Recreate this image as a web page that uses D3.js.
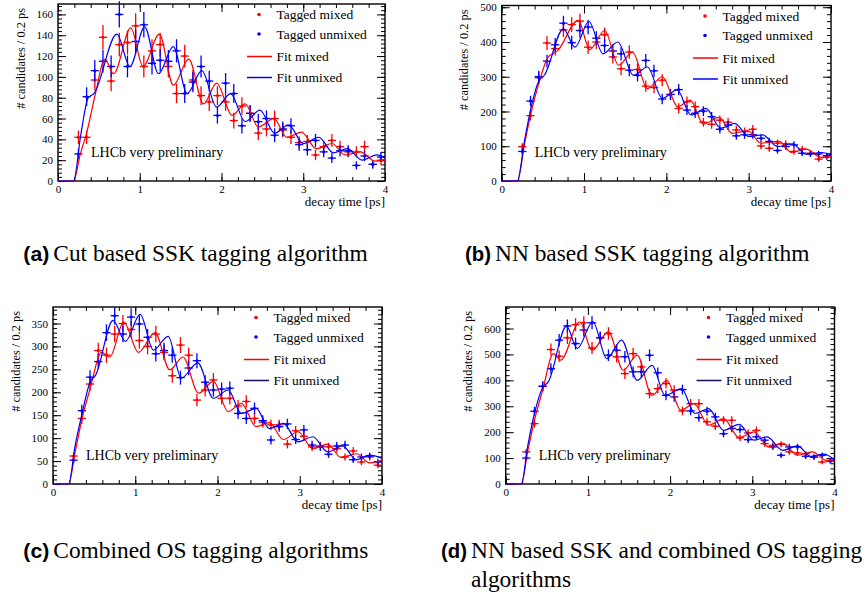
<!DOCTYPE html>
<html>
<head>
<meta charset="utf-8">
<script src="https://cdn.jsdelivr.net/npm/d3@7"></script>
<style>
  html, body { margin: 0; padding: 0; background: #fff; }
  svg { display: block; }
</style>
</head>
<body>
<svg id="fig" width="868" height="596"></svg>
<script>
// ---- data ---------------------------------------------------------------
// decay-time bin centres [ps]
const binCentres = [0.25,0.35,0.45,0.55,0.65,0.75,0.85,0.95,1.05,1.15,1.25,1.35,1.45,1.55,1.65,1.75,1.85,1.95,
                    2.05,2.15,2.25,2.35,2.45,2.55,2.65,2.75,2.85,2.95,3.05,3.15,3.25,3.35,3.45,3.55,3.65,3.75,3.85,3.95];
const binHalfWidth = 0.05;
const xTickLabels = [0, 1, 2, 3, 4];

// (a) cut based SSK
const cutMixed   = [42,42,97,138,96,131,133,149,110,125,131,110,84,120,97,82,76,82,76,58,72,65,46,50,60,49,42,37,38,25,33,39,33,28,28,33,16,20];
const cutUnmixed = [26,81,106,115,110,160,110,134,150,113,116,115,125,84,95,110,96,63,94,84,53,65,57,60,44,50,53,35,30,39,28,22,29,29,15,24,16,23];
const cutFitMixed = [[0,0],[0.19,0],[0.27,25],[0.35,46],[0.45,81],[0.575,117],[0.68,103],[0.89,147],[1.04,110],[1.24,141],[1.41,92],[1.6,117],[1.78,74],[1.94,94],[2.13,63],[2.29,74],[2.45,52],[2.64,60],[2.8,42],[2.98,47],[3.16,31],[3.35,36],[3.51,25],[3.7,28],[3.88,19],[4.0,21]];
const cutFitUnmixed = [[0,0],[0.19,0],[0.28,45],[0.37,80],[0.44,84],[0.72,141],[0.88,110],[1.06,148],[1.23,103],[1.41,129],[1.58,84],[1.76,106],[1.94,71],[2.11,84],[2.29,57],[2.47,68],[2.65,46],[2.82,54],[3.0,36],[3.19,42],[3.37,27],[3.54,31],[3.72,20],[3.9,25],[4.0,22]];
const cutYTicks = [0,20,40,60,80,100,120,140,160];

// (b) NN based SSK
const nnMixed   = [99,188,297,397,381,435,450,460,385,400,421,357,323,371,321,273,269,290,249,209,228,214,169,163,175,169,147,142,149,101,94,109,107,85,92,80,63,69];
const nnUnmixed = [85,230,300,345,392,454,398,433,443,411,390,374,366,319,304,347,317,236,249,263,204,195,201,185,149,161,130,133,133,123,114,88,99,104,80,78,78,73];
const nnFitMixed = [[0,0],[0.19,0],[0.28,110],[0.36,200],[0.45,280],[0.56,355],[0.68,375],[0.93,462],[1.07,378],[1.25,433],[1.42,333],[1.59,371],[1.77,266],[1.95,300],[2.14,214],[2.29,233],[2.45,164],[2.64,183],[2.8,137],[2.99,145],[3.15,109],[3.37,114],[3.52,82],[3.7,92],[3.88,68],[4.0,70]];
const nnFitUnmixed = [[0,0],[0.19,0],[0.28,120],[0.36,215],[0.45,288],[0.52,305],[0.75,438],[0.89,385],[1.06,459],[1.23,366],[1.41,400],[1.6,304],[1.77,328],[1.95,238],[2.13,262],[2.3,190],[2.48,209],[2.66,152],[2.83,166],[3.0,128],[3.17,133],[3.35,99],[3.53,107],[3.7,77],[3.88,82],[4.0,75]];
const nnYTicks = [0,100,200,300,400,500];

// (c) combined OS
const osMixed   = [61,143,218,291,281,327,350,337,313,300,327,287,236,303,281,183,205,227,187,187,170,180,143,135,129,129,87,116,104,81,83,81,77,59,72,48,59,41];
const osUnmixed = [52,160,233,267,330,367,327,364,349,320,284,291,281,232,253,269,222,205,207,209,154,143,165,138,96,125,131,97,118,85,81,65,83,85,53,59,61,48];
const osFitMixed = [[0,0],[0.19,0],[0.27,70],[0.35,140],[0.45,207],[0.59,287],[0.69,277],[0.86,353],[1.04,287],[1.24,330],[1.42,249],[1.58,277],[1.77,198],[1.95,224],[2.13,158],[2.29,176],[2.47,125],[2.63,134],[2.8,97],[2.98,114],[3.16,77],[3.34,87],[3.5,58],[3.69,66],[3.85,46],[4.0,52]];
const osFitUnmixed = [[0,0],[0.19,0],[0.27,85],[0.35,151],[0.45,222],[0.52,238],[0.73,357],[0.88,311],[1.06,370],[1.22,292],[1.4,322],[1.56,231],[1.76,264],[1.95,187],[2.13,205],[2.29,154],[2.47,165],[2.63,121],[2.8,132],[2.98,92],[3.16,103],[3.34,70],[3.52,83],[3.69,53],[3.85,63],[4.0,56]];
const osYTicks = [0,50,100,150,200,250,300,350];

// (d) NN based SSK + combined OS
const comboMixed   = [124,233,377,519,493,564,615,622,525,564,581,491,426,503,452,349,368,388,362,282,310,310,240,223,246,246,178,197,207,156,149,153,124,120,117,104,85,89];
const comboUnmixed = [100,281,377,445,555,610,542,594,622,564,497,516,491,433,433,497,429,342,336,364,282,256,281,259,194,214,210,171,182,169,143,111,143,143,107,104,111,89];
const comboFitMixed = [[0,0],[0.19,0],[0.27,130],[0.35,246],[0.45,362],[0.58,503],[0.67,478],[0.9,626],[1.05,516],[1.25,587],[1.43,439],[1.6,497],[1.78,342],[1.96,400],[2.13,285],[2.29,310],[2.47,227],[2.65,252],[2.84,179],[3.02,201],[3.2,143],[3.37,158],[3.55,111],[3.73,124],[3.9,91],[4.0,94]];
const comboFitUnmixed = [[0,0],[0.19,0],[0.27,150],[0.35,272],[0.45,372],[0.52,395],[0.74,609],[0.87,523],[1.06,626],[1.23,484],[1.41,555],[1.6,400],[1.78,458],[1.94,342],[2.14,368],[2.3,272],[2.47,291],[2.65,207],[2.84,230],[3.02,169],[3.18,182],[3.37,130],[3.55,147],[3.71,107],[3.87,115],[4.0,94]];
const comboYTicks = [0,100,200,300,400,500,600];

const legendLabels = ["Tagged mixed", "Tagged unmixed", "Fit mixed", "Fit unmixed"];
const xTitle = "decay time [ps]";
const yTitle = "# candidates / 0.2 ps";
const stamp = "LHCb very preliminary";

// ---- layout -------------------------------------------------------------
const RED = "#ff0000", BLUE = "#0000ff";
const serif = '"Liberation Serif", "Times New Roman", Times, serif';

const panels = [
  { left: 58,    right: 385,   top: 4,   bottom: 181, yMax: 170, yMinor: 4,
    yTicks: cutYTicks, mixed: cutMixed, unmixed: cutUnmixed,
    fitMixed: cutFitMixed, fitUnmixed: cutFitUnmixed, legendUnmixed: BLUE },
  { left: 501.7, right: 831,   top: 5.5, bottom: 181, yMax: 505, yMinor: 20,
    yTicks: nnYTicks, mixed: nnMixed, unmixed: nnUnmixed,
    fitMixed: nnFitMixed, fitUnmixed: nnFitUnmixed, legendUnmixed: BLUE },
  { left: 53,    right: 382,   top: 307, bottom: 484, yMax: 386, yMinor: 10,
    yTicks: osYTicks, mixed: osMixed, unmixed: osUnmixed,
    fitMixed: osFitMixed, fitUnmixed: osFitUnmixed, legendUnmixed: "#10105a" },
  { left: 505.7, right: 834.5, top: 307, bottom: 484, yMax: 683, yMinor: 20,
    yTicks: comboYTicks, mixed: comboMixed, unmixed: comboUnmixed,
    fitMixed: comboFitMixed, fitUnmixed: comboFitUnmixed, legendUnmixed: "#10105a" }
];

const svg = d3.select("#fig");

function styleAxis(g) {
  g.select(".domain").remove();
  g.attr("font-family", serif).attr("font-size", 11);
  g.selectAll(".tick line").attr("stroke", "#000").attr("stroke-width", 1);
  g.selectAll(".tick text").attr("fill", "#000");
}

panels.forEach(p => {
  const x = d3.scaleLinear().domain([0, 4]).range([p.left, p.right]);
  const y = d3.scaleLinear().domain([0, p.yMax]).range([p.bottom, p.top]);
  const g = svg.append("g");

  const xMinor = d3.range(0, 4.0001, 0.2);
  const yMinor = d3.range(0, p.yMax, p.yMinor);

  // bottom axis
  g.append("g").attr("transform", `translate(0,${p.bottom})`)
    .call(d3.axisBottom(x).tickValues(xMinor).tickSize(-4).tickFormat(""))
    .call(styleAxis);
  g.append("g").attr("transform", `translate(0,${p.bottom})`)
    .call(d3.axisBottom(x).tickValues(xTickLabels).tickSize(-8).tickPadding(4).tickFormat(d3.format("d")))
    .call(styleAxis);
  // top axis
  g.append("g").attr("transform", `translate(0,${p.top})`)
    .call(d3.axisTop(x).tickValues(xMinor).tickSize(-4).tickFormat(""))
    .call(styleAxis);
  g.append("g").attr("transform", `translate(0,${p.top})`)
    .call(d3.axisTop(x).tickValues(xTickLabels).tickSize(-8).tickFormat(""))
    .call(styleAxis);
  // left axis
  g.append("g").attr("transform", `translate(${p.left},0)`)
    .call(d3.axisLeft(y).tickValues(yMinor).tickSize(-4).tickFormat(""))
    .call(styleAxis);
  g.append("g").attr("transform", `translate(${p.left},0)`)
    .call(d3.axisLeft(y).tickValues(p.yTicks).tickSize(-8).tickPadding(5).tickFormat(d3.format("d")))
    .call(styleAxis);
  // right axis
  g.append("g").attr("transform", `translate(${p.right},0)`)
    .call(d3.axisRight(y).tickValues(yMinor).tickSize(-4).tickFormat(""))
    .call(styleAxis);
  g.append("g").attr("transform", `translate(${p.right},0)`)
    .call(d3.axisRight(y).tickValues(p.yTicks).tickSize(-8).tickFormat(""))
    .call(styleAxis);

  // frame
  g.append("rect")
    .attr("x", p.left).attr("y", p.top)
    .attr("width", p.right - p.left).attr("height", p.bottom - p.top)
    .attr("fill", "none").attr("stroke", "#000").attr("stroke-width", 1.4);

  // axis titles
  g.append("text")
    .attr("x", p.right).attr("y", p.bottom + 20.5)
    .attr("text-anchor", "end").attr("dominant-baseline", "central")
    .attr("font-family", serif).attr("font-size", 13)
    .text(xTitle);
  g.append("text")
    .attr("transform", `translate(${p.left - 37.5},${p.top + 4}) rotate(-90)`)
    .attr("text-anchor", "end").attr("dominant-baseline", "central")
    .attr("font-family", serif).attr("font-size", 12.4)
    .text(yTitle);

  // data points with error bars
  function drawPoints(values, colour) {
    const pts = g.append("g").attr("stroke", colour).attr("fill", colour);
    binCentres.forEach((t, i) => {
      const v = values[i];
      const e = Math.sqrt(v);
      pts.append("line")
        .attr("x1", x(t - binHalfWidth)).attr("x2", x(t + binHalfWidth))
        .attr("y1", y(v)).attr("y2", y(v)).attr("stroke-width", 1.3);
      pts.append("line")
        .attr("x1", x(t)).attr("x2", x(t))
        .attr("y1", y(Math.max(0, v - e))).attr("y2", y(v + e)).attr("stroke-width", 1.3);
      pts.append("circle")
        .attr("cx", x(t)).attr("cy", y(v)).attr("r", 1.5).attr("stroke", "none");
    });
  }
  drawPoints(p.mixed, RED);
  drawPoints(p.unmixed, BLUE);

  // fit curves
  const line = d3.line()
    .x(d => x(d[0])).y(d => y(d[1]))
    .curve(d3.curveMonotoneX);
  g.append("path").datum(p.fitMixed)
    .attr("d", line).attr("fill", "none")
    .attr("stroke", RED).attr("stroke-width", 1.2);
  g.append("path").datum(p.fitUnmixed)
    .attr("d", line).attr("fill", "none")
    .attr("stroke", BLUE).attr("stroke-width", 1.2);

  // legend
  const rows = [10.5, 30, 52.5, 73.5];
  const lg = g.append("g").attr("font-family", serif).attr("font-size", 13.5);
  legendLabels.forEach((label, i) => {
    const cy = p.top + rows[i];
    if (i < 2) {
      lg.append("circle")
        .attr("cx", p.right - 126).attr("cy", cy).attr("r", 1.8)
        .attr("fill", i === 0 ? RED : BLUE);
    } else {
      lg.append("line")
        .attr("x1", p.right - 138).attr("x2", p.right - 113)
        .attr("y1", cy).attr("y2", cy)
        .attr("stroke", i === 2 ? RED : p.legendUnmixed).attr("stroke-width", 1.5);
    }
    lg.append("text")
      .attr("x", p.right - 108.5).attr("y", cy)
      .attr("dominant-baseline", "central")
      .text(label);
  });

  // experiment stamp
  g.append("text")
    .attr("x", p.left + 33).attr("y", p.bottom - 29)
    .attr("dominant-baseline", "central")
    .attr("font-family", serif).attr("font-size", 14)
    .text(stamp);
});

// ---- sub-figure captions --------------------------------------------------
const captions = [
  { tag: "(a)", lines: ["Cut based SSK tagging algorithm"], x: 23.3, y: 261 },
  { tag: "(b)", lines: ["NN based SSK tagging algorithm"], x: 465, y: 261 },
  { tag: "(c)", lines: ["Combined OS tagging algorithms"], x: 23.3, y: 558 },
  { tag: "(d)", lines: ["NN based SSK and combined OS tagging", "algorithms"], x: 441, y: 558 }
];
captions.forEach(c => {
  svg.append("text")
    .attr("x", c.x).attr("y", c.y)
    .attr("font-family", '"Liberation Sans", Arial, sans-serif')
    .attr("font-weight", "bold").attr("font-size", 21)
    .attr("textLength", 26).attr("lengthAdjust", "spacingAndGlyphs")
    .text(c.tag);
  c.lines.forEach((ln, i) => {
    svg.append("text")
      .attr("x", c.x + 30).attr("y", c.y + i * 28.5)
      .attr("font-family", serif).attr("font-size", 23.4)
      .text(ln);
  });
});
</script>
</body>
</html>
